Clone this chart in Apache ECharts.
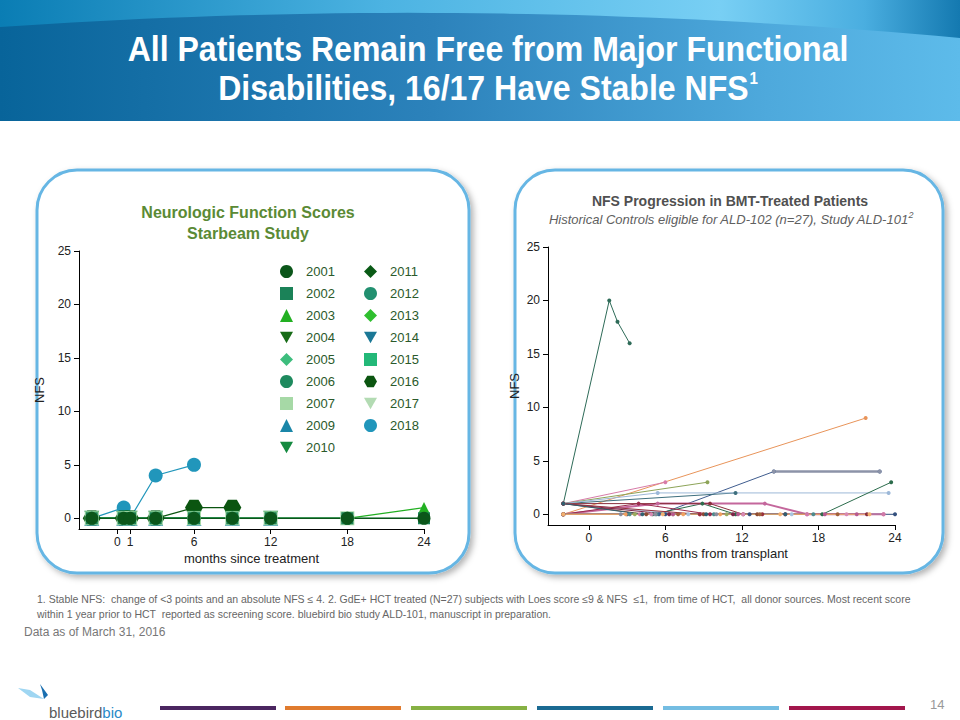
<!DOCTYPE html>
<html>
<head>
<meta charset="utf-8">
<script src="https://cdn.jsdelivr.net/npm/echarts@6/dist/echarts.min.js"></script>
<style>
html,body{margin:0;padding:0;background:#fff;}
#c{width:960px;height:720px;}
</style>
</head>
<body>
<div id="c"></div>
<script>
// ---------- Left chart: Starbeam study ----------
const starMonths = [-2, 0.5, 1, 3, 6, 9, 12, 18, 24];
const starPatients = ['2001','2002','2003','2004','2005','2006','2007','2009','2010','2011','2012','2013','2014','2015','2016','2017','2018'];
const nfs2001 = [0,0,0,0,0,0,0,0,0];
const nfs2002 = [0,0,0,0,0,0,0,0,0];
const nfs2003 = [0,0,0,0,0,0,0,0,1];
const nfs2004 = [0,0,0,0,0,0,0,0,0];
const nfs2005 = [0,0,0,0,0,0,0,0,null];
const nfs2006 = [0,0,0,0,0,0,0,0,null];
const nfs2007 = [0,0,0,0,0,0,0,0,null];
const nfs2009 = [0,0,0,0,0,0,0,null,null];
const nfs2010 = [0,0,0,0,0,0,0,null,null];
const nfs2011 = [0,0,0,0,0,0,null,null,null];
const nfs2012 = [0,0,0,0,0,0,null,null,null];
const nfs2013 = [0,0,0,0,0,0,null,null,null];
const nfs2014 = [0,0,0,0,0,null,null,null,null];
const nfs2015 = [0,0,0,0,0,null,null,null,null];
const nfs2016 = [0,0,0,0,1,1,null,null,null];
const nfs2017 = [0,0,0,0,null,null,null,null,null];
const nfs2018 = [0,1,0,4,5,null,null,null,null];
const starValues = [nfs2001,nfs2002,nfs2003,nfs2004,nfs2005,nfs2006,nfs2007,nfs2009,nfs2010,nfs2011,nfs2012,nfs2013,nfs2014,nfs2015,nfs2016,nfs2017,nfs2018];
const starXTicks = [0, 1, 6, 12, 18, 24];
const nfsTicks = [0, 5, 10, 15, 20, 25];

// ---------- Right chart: BMT historical controls (month, NFS) ----------
const ctrl01 = [[-2,1],[1.6,20],[2.25,18],[3.2,16]];
const ctrl02 = [[-2,0],[21.7,9]];
const ctrl03 = [[-2,1],[6,3]];
const ctrl04 = [[-2,1],[9.3,3]];
const ctrl05 = [[-2,0],[5.5,0],[14.5,4],[22.8,4]];
const ctrl06 = [[14.5,4],[22.8,4]];
const ctrl07 = [[-2,1],[11.5,2]];
const ctrl08 = [[-2,1],[5.4,2],[23.5,2]];
const ctrl09 = [[-2,0],[5,0],[8.9,1],[11.5,0],[18.3,0],[23.7,3]];
const ctrl10 = [[-2,0],[5.4,1],[13.8,1],[17.1,0],[23.1,0]];
const ctrl11 = [[-2,0],[3.9,1],[9.5,0],[15.4,0]];
const ctrl12 = [[-2,1],[9.5,1],[12.1,0],[21.8,0]];
const ctrl13 = [[-2,0],[3.0,0],[6.0,0],[12.6,0],[24,0]];
const ctrl14 = [[-2,0],[2.9,0],[7.4,0],[10.3,0]];
const ctrl15 = [[-2,1],[4.5,0],[9.0,0],[13.2,0]];
const ctrl16 = [[-2,0],[4.9,0],[12.1,0],[20.2,0]];
const ctrl17 = [[-2,1],[7.8,0],[15.9,0]];
const ctrl18 = [[-2,0],[3.6,0],[6.6,0],[10.8,0]];
const ctrl19 = [[-2,0],[4.0,0],[8.7,0],[17.1,0],[23.1,0]];
const ctrl20 = [[-2,1],[6.3,0],[11.3,0]];
const ctrl21 = [[-2,0],[3.2,0],[5.3,0],[9.8,0],[17.6,0]];
const ctrl22 = [[-2,0],[6.6,0],[11.7,0],[18.5,0],[21.0,0]];
const ctrl23 = [[-2,1],[8.7,0],[13.6,0]];
const ctrl24 = [[-2,0],[2.5,0],[5.2,0],[10.0,0]];
const ctrl25 = [[-2,0],[7.0,0],[13.4,0],[19.5,0]];
const ctrl26 = [[-2,1],[4.2,0],[9.2,0],[15.4,0]];
const ctrl27 = [[-2,0],[5.8,0],[15.0,0],[22.0,0]];
const ctrlData = [ctrl01,ctrl02,ctrl03,ctrl04,ctrl05,ctrl06,ctrl07,ctrl08,ctrl09,ctrl10,ctrl11,ctrl12,ctrl13,ctrl14,ctrl15,ctrl16,ctrl17,ctrl18,ctrl19,ctrl20,ctrl21,ctrl22,ctrl23,ctrl24,ctrl25,ctrl26,ctrl27];
const bmtXTicks = [0, 6, 12, 18, 24];

// ---------- styles ----------
const TRI_DOWN = 'path://M0,0 L10,0 L5,9 Z';
const HEXAGON = 'path://M5,0 L15,0 L20,8.66 L15,17.32 L5,17.32 L0,8.66 Z';
const starStyle = [
  {c:'#0b561a', s:'circle',  z:13},
  {c:'#1b8258', s:'rect',    z:12},
  {c:'#22b022', s:'triangle',z:11},
  {c:'#176b17', s:TRI_DOWN,  z:11},
  {c:'#3dbd7d', s:'diamond', z:9},
  {c:'#1e8a5e', s:'circle',  z:13},
  {c:'#a6d9a6', s:'rect',    z:14},
  {c:'#1a86a8', s:'triangle',z:15},
  {c:'#158a40', s:TRI_DOWN,  z:15},
  {c:'#0a5a16', s:'diamond', z:13},
  {c:'#229070', s:'circle',  z:9},
  {c:'#2fbf2f', s:'diamond', z:13},
  {c:'#1b7896', s:TRI_DOWN,  z:13},
  {c:'#23b878', s:'rect',    z:13},
  {c:'#0b5510', s:HEXAGON,   z:18},
  {c:'#b3dbb3', s:TRI_DOWN,  z:13},
  {c:'#2196bb', s:'circle',  z:14}
];
const ctrlColors = ['#2e6b58','#e8945a','#d77ba8','#8da458','#3f5c8e','#8c93a8','#3e6f7e','#9cb8d8','#2c6c4c','#c4679c','#9b2b4d','#8a2f3c','#34507e','#f0a060','#8c4a32','#d889b2','#a8c4e0','#9aab60','#d07aa8','#7e2448','#4c8a8c','#b85a90','#99303c','#8c8c9c','#a0603a','#2f6070','#f2b070'];
const ctrlWidths = {5:2.5, 9:2};

const FONT = 'Liberation Sans, Arial, sans-serif';

const series = [];
starPatients.forEach((p, i) => {
  const st = starStyle[i];
  series.push({
    name: p, type: 'line', xAxisIndex: 0, yAxisIndex: 0,
    data: starMonths.map((m, k) => starValues[i][k] === null ? null : [m, starValues[i][k]]).filter(d => d),
    symbol: st.s, symbolSize: st.s === HEXAGON ? [st.z, st.z * 0.866] : st.z,
    itemStyle: {color: st.c, opacity: 1},
    lineStyle: {color: st.c, width: 1.2},
    emphasis: {disabled: true}, animation: false
  });
});
// draw earlier patients on top at the shared zero baseline
const starSeries = series.slice().reverse();
const ctrlSeries = ctrlData.map((d, i) => ({
  name: 'ctrl' + (i + 1), type: 'line', xAxisIndex: 1, yAxisIndex: 1,
  data: d, symbol: 'circle', symbolSize: 4, showSymbol: true,
  itemStyle: {color: ctrlColors[i]},
  lineStyle: {color: ctrlColors[i], width: ctrlWidths[i] || 1},
  emphasis: {disabled: true}, animation: false
}));

// header arc outline (decoration)
const arcPts = [[0,0],[960,0]];
for (let k = 0; k <= 40; k++) {
  const t = 1 - k / 40;
  const x = 2*(1-t)*t*480 + t*t*960;
  const y = (1-t)*(1-t)*27 + 2*(1-t)*t*(-6) + t*t*38;
  arcPts.push([x, y]);
}

const legendItem = (i) => ({name: starPatients[i], icon: starStyle[i].s, itemStyle: {color: starStyle[i].c}});
const axisText = {fontFamily: FONT, fontSize: 12, color: '#222'};
const legendBase = {orient: 'vertical', top: 260, itemWidth: 13, itemHeight: 13, itemGap: 9, selectedMode: false,
  textStyle: {fontFamily: FONT, fontSize: 13, color: '#2b5a2b', padding: [0,0,0,8]}};

const option = {
  backgroundColor: '#ffffff',
  animation: false,
  grid: [
    {left: 79, top: 251, width: 345, height: 278},
    {left: 548, top: 247, width: 347, height: 278}
  ],
  xAxis: [
    {type: 'value', gridIndex: 0, min: -3, max: 24, splitLine: {show: false},
     axisLine: {onZero: false, lineStyle: {color: '#000', width: 1}},
     axisTick: {customValues: starXTicks, length: 5, lineStyle: {color: '#000'}},
     axisLabel: Object.assign({customValues: starXTicks, margin: 7}, axisText),
     name: 'months since treatment', nameLocation: 'middle', nameGap: 23,
     nameTextStyle: {fontFamily: FONT, fontSize: 13, color: '#222'}},
    {type: 'value', gridIndex: 1, min: -3.2, max: 24, splitLine: {show: false},
     axisLine: {onZero: false, lineStyle: {color: '#000', width: 1}},
     axisTick: {customValues: bmtXTicks, length: 5, lineStyle: {color: '#000'}},
     axisLabel: Object.assign({customValues: bmtXTicks, margin: 7}, axisText),
     name: 'months from transplant', nameLocation: 'middle', nameGap: 22,
     nameTextStyle: {fontFamily: FONT, fontSize: 13, color: '#222'}}
  ],
  yAxis: [
    {type: 'value', gridIndex: 0, min: -1, max: 25, splitLine: {show: false},
     axisLine: {onZero: false, lineStyle: {color: '#000', width: 1}},
     axisTick: {customValues: nfsTicks, length: 5, lineStyle: {color: '#000'}},
     axisLabel: Object.assign({customValues: nfsTicks, margin: 8}, axisText),
     name: 'NFS', nameLocation: 'middle', nameGap: 33,
     nameTextStyle: {fontFamily: FONT, fontSize: 13, color: '#222'}},
    {type: 'value', gridIndex: 1, min: -1, max: 25, splitLine: {show: false},
     axisLine: {onZero: false, lineStyle: {color: '#000', width: 1}},
     axisTick: {customValues: nfsTicks, length: 5, lineStyle: {color: '#000'}},
     axisLabel: Object.assign({customValues: nfsTicks, margin: 8}, axisText),
     name: 'NFS', nameLocation: 'middle', nameGap: 27,
     nameTextStyle: {fontFamily: FONT, fontSize: 13, color: '#222'}}
  ],
  legend: [
    Object.assign({left: 275, data: [0,1,2,3,4,5,6,7,8].map(legendItem)}, legendBase),
    Object.assign({left: 359, data: [9,10,11,12,13,14,15,16].map(legendItem)}, legendBase)
  ],
  graphic: [
    // header band
    {type: 'rect', z: -10, shape: {x: 0, y: 0, width: 960, height: 121},
     style: {fill: new echarts.graphic.LinearGradient(0, 0, 1, 0, [
       {offset: 0, color: '#08649a'}, {offset: 0.45, color: '#2c82bb'},
       {offset: 0.8, color: '#4ea9dc'}, {offset: 1, color: '#5dbbea'}])}},
    {type: 'polygon', z: -9, shape: {points: arcPts},
     style: {fill: new echarts.graphic.LinearGradient(0, 0, 1, 0, [
       {offset: 0, color: '#0a7db4'}, {offset: 0.4, color: '#4cb3e2'},
       {offset: 0.75, color: '#78cff4'}, {offset: 0.9, color: '#4aaee0'}, {offset: 1, color: '#1479b0'}])}},
    {type: 'text', z: 5, x: 488, y: 48, scaleX: 0.89,
     style: {text: 'All Patients Remain Free from Major Functional', fill: '#fff',
       font: 'bold 36px ' + FONT, textAlign: 'center', textVerticalAlign: 'middle'}},
    {type: 'text', z: 5, x: 488, y: 87, scaleX: 0.89,
     style: {text: '{a|Disabilities, 16/17 Have Stable NFS}{s|1}', textAlign: 'center', textVerticalAlign: 'middle',
       rich: {a: {font: 'bold 36px ' + FONT, fill: '#fff'},
              s: {font: 'bold 17px ' + FONT, fill: '#fff', padding: [0,0,18,1]}}}},
    // panels
    {type: 'rect', z: -8, shape: {x: 37, y: 170, width: 432, height: 403, r: 40},
     style: {fill: '#fff', stroke: '#66b6e4', lineWidth: 3, shadowBlur: 6, shadowOffsetX: 3, shadowOffsetY: 3, shadowColor: 'rgba(0,0,0,0.3)'}},
    {type: 'rect', z: -8, shape: {x: 515, y: 170, width: 428, height: 403, r: 40},
     style: {fill: '#fff', stroke: '#66b6e4', lineWidth: 3, shadowBlur: 6, shadowOffsetX: 3, shadowOffsetY: 3, shadowColor: 'rgba(0,0,0,0.3)'}},
    // panel titles
    {type: 'text', z: 5, x: 248, y: 212,
     style: {text: 'Neurologic Function Scores', font: 'bold 16px ' + FONT, fill: '#5b8a35', textAlign: 'center', textVerticalAlign: 'middle'}},
    {type: 'text', z: 5, x: 248, y: 233,
     style: {text: 'Starbeam Study', font: 'bold 16px ' + FONT, fill: '#5b8a35', textAlign: 'center', textVerticalAlign: 'middle'}},
    {type: 'text', z: 5, x: 730, y: 201,
     style: {text: 'NFS Progression in BMT-Treated Patients', font: 'bold 14px ' + FONT, fill: '#505050', textAlign: 'center', textVerticalAlign: 'middle'}},
    {type: 'text', z: 5, x: 731, y: 219,
     style: {text: '{a|Historical Controls eligible for ALD-102 (n=27), Study ALD-101}{s|2}', textAlign: 'center', textVerticalAlign: 'middle',
       rich: {a: {font: 'italic 13px ' + FONT, fill: '#606060'}, s: {font: 'italic 9px ' + FONT, fill: '#606060', padding: [0,0,8,0]}}}},
    // footnotes
    {type: 'text', z: 5, x: 37, y: 599,
     style: {text: '1. Stable NFS:  change of <3 points and an absolute NFS \u2264 4. 2. GdE+ HCT treated (N=27) subjects with Loes score \u22649 & NFS  \u22641,  from time of HCT,  all donor sources. Most recent score',
       font: '10.5px ' + FONT, fill: '#666', textVerticalAlign: 'middle'}},
    {type: 'text', z: 5, x: 37, y: 614,
     style: {text: 'within 1 year prior to HCT  reported as screening score. bluebird bio study ALD-101, manuscript in preparation.',
       font: '10.5px ' + FONT, fill: '#666', textVerticalAlign: 'middle'}},
    {type: 'text', z: 5, x: 24, y: 632,
     style: {text: 'Data as of March 31, 2016', font: '12px ' + FONT, fill: '#777', textVerticalAlign: 'middle'}},
    // footer bars
    {type: 'rect', z: 5, shape: {x: 160, y: 706, width: 116, height: 4}, style: {fill: '#4b2660'}},
    {type: 'rect', z: 5, shape: {x: 285, y: 706, width: 116, height: 4}, style: {fill: '#e07b2e'}},
    {type: 'rect', z: 5, shape: {x: 411, y: 706, width: 116, height: 4}, style: {fill: '#86b144'}},
    {type: 'rect', z: 5, shape: {x: 537, y: 706, width: 116, height: 4}, style: {fill: '#1a6a92'}},
    {type: 'rect', z: 5, shape: {x: 663, y: 706, width: 116, height: 4}, style: {fill: '#74bde2'}},
    {type: 'rect', z: 5, shape: {x: 789, y: 706, width: 116, height: 4}, style: {fill: '#a2164c'}},
    {type: 'text', z: 5, x: 930, y: 698, style: {text: '14', font: '13px ' + FONT, fill: '#999'}},
    // logo
    {type: 'polygon', z: 5, shape: {points: [[18,688],[30,690],[44,699],[30,697]]}, style: {fill: '#9fd6f2'}},
    {type: 'polygon', z: 5, shape: {points: [[40,684],[48,695],[44,699],[42,690]]}, style: {fill: '#1a6fb0'}},
    {type: 'text', z: 5, x: 49, y: 705,
     style: {text: '{a|bluebird}{b|bio}', rich: {a: {font: '15px ' + FONT, fill: '#5a5a5a'}, b: {font: '15px ' + FONT, fill: '#2a8ac8'}}}}
  ],
  series: starSeries.concat(ctrlSeries)
};

const chart = echarts.init(document.getElementById('c'), null, {renderer: 'svg'});
chart.setOption(option);
</script>
</body>
</html>
